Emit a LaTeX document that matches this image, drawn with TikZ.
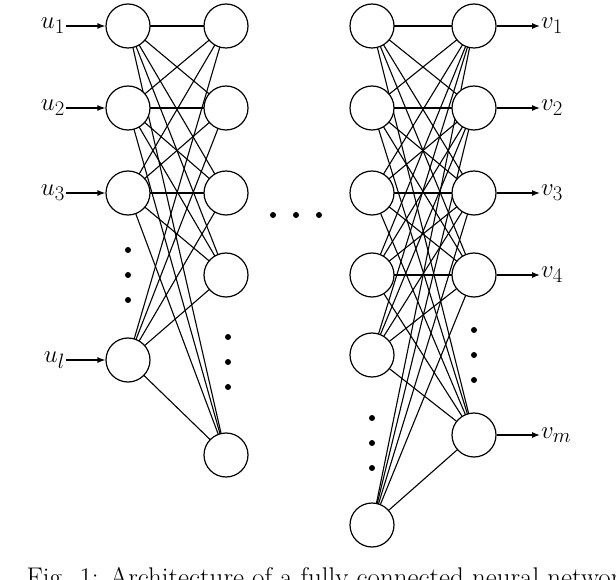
\documentclass[tikz,border=0pt]{standalone}
\usetikzlibrary{arrows.meta}
\begin{document}
\begin{tikzpicture}[x=1pt,y=-1pt,
  neuron/.style={circle,draw,line width=1.2pt,minimum size=44pt,inner sep=0pt,fill=white},
  conn/.style={line width=1.1pt},
  arr/.style={line width=1.2pt,-{Latex[length=8pt,width=6pt]}},
  dot/.style={circle,fill,inner sep=0pt,minimum size=6pt},
  lab/.style={font=\fontsize{30}{30}\selectfont,inner sep=1pt}]
\clip (0,0) rectangle (616,580);
\useasboundingbox (0,0) rectangle (616,580);
\foreach \n/\y in {1/26,2/108,3/193,4/360} \coordinate (a\n) at (128,\y);
\foreach \n/\y in {1/26,2/108,3/193,4/275,5/455} \coordinate (b\n) at (226,\y);
\foreach \n/\y in {1/26,2/108,3/193,4/275,5/355,6/525} \coordinate (c\n) at (372,\y);
\foreach \n/\y in {1/26,2/108,3/193,4/275,5/435} \coordinate (d\n) at (474,\y);
\foreach \i in {1,...,4} \foreach \j in {1,...,5} \draw[conn] (a\i) -- (b\j);
\foreach \i in {1,...,6} \foreach \j in {1,...,5} \draw[conn] (c\i) -- (d\j);
\foreach \n in {1,...,4} \node[neuron] (A\n) at (a\n) {};
\foreach \n in {1,...,5} \node[neuron] (B\n) at (b\n) {};
\foreach \n in {1,...,6} \node[neuron] (C\n) at (c\n) {};
\foreach \n in {1,...,5} \node[neuron] (D\n) at (d\n) {};
\foreach \y in {250,275,300} \node[dot] at (128,\y) {};
\foreach \y in {337,362,387} \node[dot] at (228,\y) {};
\foreach \y in {418,443,468} \node[dot] at (372,\y) {};
\foreach \y in {330,355,380} \node[dot] at (474,\y) {};
\foreach \x in {273,296,319} \node[dot] at (\x,215) {};
\foreach \n/\t in {1/1,2/2,3/3,4/l} {
  \node[lab,anchor=east] (U\n) at (66,0|-A\n) {$u_{\t}$};
  \draw[arr] (U\n.east) -- (A\n.west);
}
\foreach \n/\t in {1/1,2/2,3/3,4/4,5/m} {
  \node[lab,anchor=west] (V\n) at (540,0|-D\n) {$v_{\t}$};
  \draw[arr] (D\n.east) -- (V\n.west);
}
\node[font=\fontsize{27}{27}\selectfont,anchor=north] (cap) at (330,564) {Fig. 1: Architecture of a fully connected neural network};
\end{tikzpicture}
\end{document}
